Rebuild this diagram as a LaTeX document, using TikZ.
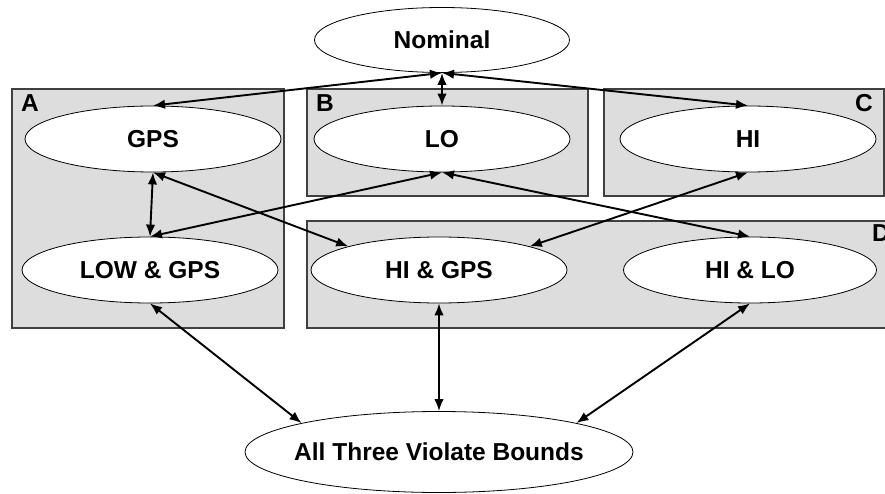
\documentclass[tikz,border=0pt]{standalone}
\usepackage{fontspec}
\setmainfont{Liberation Sans}
\usetikzlibrary{shapes.geometric}
\usetikzlibrary{arrows.meta}
\definecolor{zonegray}{HTML}{DDDDDD}
\definecolor{zoneline}{HTML}{404040}
\newcommand{\labfont}{\fontsize{24.5}{28}\selectfont\bfseries}

\begin{document}
\begin{tikzpicture}[x=1pt, y=-1pt,
    state/.style={draw, ellipse, fill=white, inner sep=0pt, line width=0.8pt,
      minimum width=256pt, minimum height=66pt, font=\labfont},
    zone/.style={draw=zoneline, fill=zonegray, line width=1.2pt},
    tag/.style={inner sep=0pt, font=\labfont},
    link/.style={{Latex[length=12pt,width=9.5pt]}-{Latex[length=12pt,width=9.5pt]}, line width=1.9pt}]
    \useasboundingbox (0,0) rectangle (885,494);

    % regions
    \draw[zone] (12,89) rectangle (284,328);
    \draw[zone] (307,89) rectangle (588,196);
    \draw[zone] (604,89) rectangle (884,196);
    \draw[zone] (307,221) rectangle (892,328);

    \node[tag, anchor=west] (tagA) at (21,103) {A};
    \node[tag, anchor=west] (tagB) at (316,103) {B};
    \node[tag, anchor=east] (tagC) at (873,103) {C};
    \node[tag, anchor=west] (tagD) at (872,233) {D};

    % states
    \node[state, minimum width=255pt, minimum height=65pt] (nominal) at (442,40) {Nominal};
    \node[state] (gps) at (153,139) {GPS};
    \node[state] (lo) at (442,139) {LO};
    \node[state] (hi) at (748,139) {HI};
    \node[state] (lowgps) at (150,270) {LOW \& GPS};
    \node[state] (higps) at (439,270) {HI \& GPS};
    \node[state, minimum width=253pt] (hilo) at (750,270) {HI \& LO};
    \node[state, inner xsep=-10pt, minimum width=388pt, minimum height=81pt] (all) at (439,452) {All Three Violate Bounds};

    % transitions
    \draw[link] (nominal.south) -- (gps.north);
    \draw[link] (nominal.south) -- (lo.north);
    \draw[link] (nominal.south) -- (hi.north);
    \draw[link] (gps.south) -- (lowgps.north);
    \draw[link] (gps.south) -- (higps.north west);
    \draw[link] (lo.south) -- (lowgps.north);
    \draw[link] (lo.south) -- (hilo.north);
    \draw[link] (hi.south) -- (higps.north east);
    \draw[link] (lowgps.south) -- (all.north west);
    \draw[link] (higps.south) -- (all.north);
    \draw[link] (hilo.south) -- (all.north east);
\end{tikzpicture}
\end{document}
